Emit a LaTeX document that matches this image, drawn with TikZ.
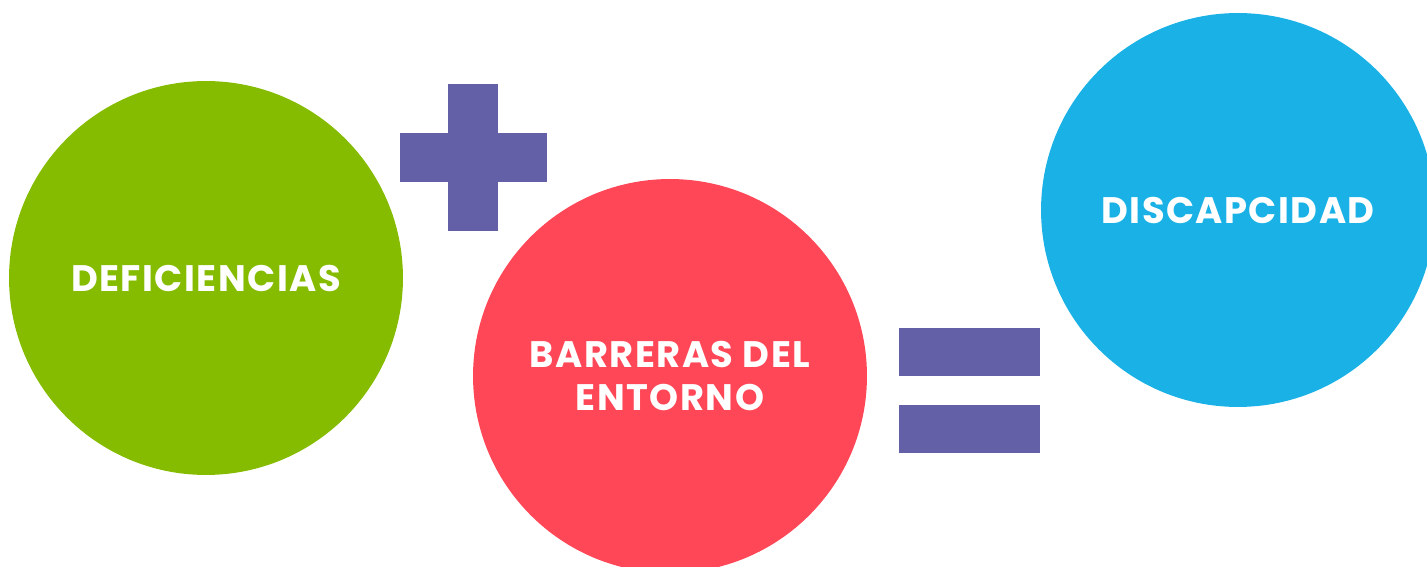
\documentclass[tikz,border=0pt]{standalone}
\usepackage{fontspec}
\setmainfont{Poppins}[LetterSpace=4]
\usepackage{tikz}
\definecolor{verde}{HTML}{85BC00}
\definecolor{rojo}{HTML}{FF4757}
\definecolor{azul}{HTML}{1AB2E6}
\definecolor{morado}{HTML}{6360A8}

\begin{document}
\begin{tikzpicture}[x=0.02cm,y=-0.02cm]
\useasboundingbox (0,0) rectangle (1427,567);
\clip (0,0) rectangle (1427,567);
\begin{scope}[every node/.style={circle,minimum size=7.88cm,inner sep=0pt,
              text=white,align=center,font=\bfseries\fontsize{21}{24}\selectfont}]
    \node[fill=verde] (def) at (206,278) {DEFICIENCIAS};
    \node[fill=rojo]  (bar) at (670,376) {BARRERAS DEL\\ENTORNO};
    \node[fill=azul]  (dis) at (1238,210) {DISCAPCIDAD};
\end{scope}

\begin{scope}[fill=morado]
    % mas
    \fill (448,84) rectangle (498,231);
    \fill (400,133) rectangle (547,182);
    % igual
    \fill (899,328) rectangle (1040,376);
    \fill (899,405) rectangle (1040,453);
\end{scope}
\end{tikzpicture}
\end{document}
